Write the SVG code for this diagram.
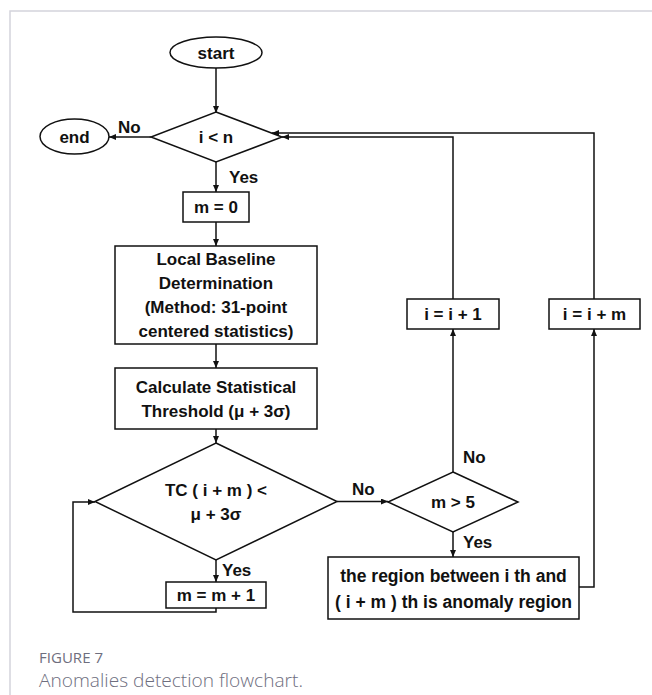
<svg xmlns="http://www.w3.org/2000/svg" width="652" height="695" viewBox="0 0 652 695">
<defs>
<marker id="ah" markerUnits="userSpaceOnUse" markerWidth="8" markerHeight="8" refX="7" refY="3" orient="auto">
<path d="M0,0 L7,3 L0,6 z" fill="#111"/>
</marker>
<style>
.s{fill:#fff;stroke:#111;stroke-width:1.5}
.c{fill:none;stroke:#111;stroke-width:1.5;marker-end:url(#ah)}
.t{font-family:"Liberation Sans",Arial,sans-serif;font-weight:bold;font-size:17px;fill:#111;text-anchor:middle}
.lb{font-family:"Liberation Sans",Arial,sans-serif;font-weight:bold;font-size:17px;fill:#111}
.cap1{font-family:"Open Sans","Liberation Sans",sans-serif;font-size:14.5px;fill:#6e6e7e;font-weight:500}
.cap2{font-family:"Open Sans","Liberation Sans",sans-serif;font-size:17.5px;fill:#6e6e7e;font-weight:300}
</style>
</defs>
<rect width="652" height="695" fill="#fff"/>
<path d="M10,695 V11 H652" fill="none" stroke="#d4d4dc" stroke-width="1.5"/>

<g id="connectors">
<path class="c" d="M216,68 V113"/>
<path class="c" d="M151,137 H109"/>
<path class="c" d="M216,162 V192"/>
<path class="c" d="M216,222 V246"/>
<path class="c" d="M216,344 V368"/>
<path class="c" d="M216,429 V443"/>
<path class="c" d="M216,560 V582"/>
<path class="c" d="M216,608 V612 H73 V502 H95"/>
<path class="c" d="M337,501.5 H388"/>
<path class="c" d="M453,472 V329"/>
<path class="c" d="M453,532 V557"/>
<path class="c" d="M453,299 V137 H282"/>
<path class="c" d="M579,587 H594 V329"/>
<path class="c" d="M594,299 V133 H272"/>
<text class="lb" x="118" y="133">No</text>
<text class="lb" x="229" y="183">Yes</text>
<text class="lb" x="352" y="495">No</text>
<text class="lb" x="463" y="463">No</text>
<text class="lb" x="463" y="548">Yes</text>
<text class="lb" x="222" y="576">Yes</text>
</g>

<g id="start">
<ellipse class="s" cx="216" cy="52.5" rx="46" ry="15.5"/>
<text class="t" x="216" y="58.5">start</text>
</g>
<g id="end">
<ellipse class="s" cx="74.5" cy="136.5" rx="34.5" ry="17.5"/>
<text class="t" x="74.5" y="142.5">end</text>
</g>
<g id="cond_i_lt_n">
<polygon class="s" points="216,112 282,137 216,162 151,137"/>
<text class="t" x="216" y="143">i &lt; n</text>
</g>
<g id="m0">
<rect class="s" x="183" y="192" width="66" height="30"/>
<text class="t" x="216" y="213">m = 0</text>
</g>
<g id="baseline">
<rect class="s" x="115" y="246" width="202" height="98"/>
<text class="t" x="216" y="265">Local Baseline</text>
<text class="t" x="216" y="289">Determination</text>
<text class="t" x="216" y="313">(Method: 31-point</text>
<text class="t" x="216" y="337">centered statistics)</text>
</g>
<g id="threshold">
<rect class="s" x="115" y="368" width="202" height="61"/>
<text class="t" x="216" y="393">Calculate Statistical</text>
<text class="t" x="216" y="417">Threshold (μ + 3σ)</text>
</g>
<g id="cond_tc">
<polygon class="s" points="216,443 337,501.5 216,560 95,501.5"/>
<text class="t" x="216" y="496">TC ( i + m ) &lt;</text>
<text class="t" x="216" y="520">μ + 3σ</text>
</g>
<g id="m_inc">
<rect class="s" x="166" y="582" width="100" height="26"/>
<text class="t" x="216" y="601">m = m + 1</text>
</g>
<g id="cond_m5">
<polygon class="s" points="453,472 518,502 453,532 388,502"/>
<text class="t" x="453" y="508">m &gt; 5</text>
</g>
<g id="i_inc1">
<rect class="s" x="407" y="299" width="92" height="30"/>
<text class="t" x="453" y="320">i = i + 1</text>
</g>
<g id="i_incm">
<rect class="s" x="549" y="299" width="91" height="30"/>
<text class="t" x="594.5" y="320">i = i + m</text>
</g>
<g id="anomaly">
<rect class="s" x="328" y="557" width="251" height="62"/>
<text class="t" x="453.5" y="582" style="font-size:17.5px">the region between i th and</text>
<text class="t" x="453.5" y="608" style="font-size:17.5px">( i + m ) th is anomaly region</text>
</g>

<g id="caption">
<text class="cap1" x="39" y="663" textLength="64" lengthAdjust="spacingAndGlyphs">FIGURE 7</text>
<text class="cap2" x="39" y="687" textLength="264" lengthAdjust="spacingAndGlyphs">Anomalies detection flowchart.</text>
</g>
</svg>
